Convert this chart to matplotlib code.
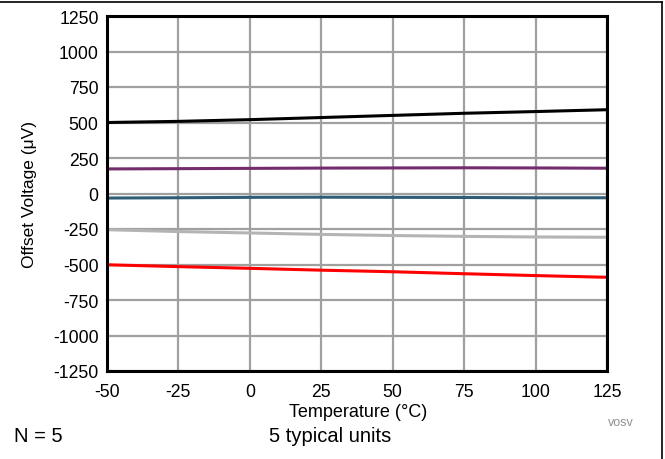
import matplotlib
matplotlib.use("Agg")
import matplotlib.pyplot as plt
from matplotlib.lines import Line2D

plt.rcParams['font.family'] = ['Liberation Sans', 'DejaVu Sans']
plt.rcParams['axes.unicode_minus'] = False

# === Data =====================================================================
temps = [-50, -25, 0, 25, 50, 75, 100, 125]
unit_black = [500, 508, 520, 535, 550, 565, 577, 590]
unit_purple = [173, 175, 177, 179, 180, 181, 180, 178]
unit_teal = [-32, -30, -27, -26, -27, -28, -30, -30]
unit_gray = [-255, -268, -278, -288, -296, -302, -306, -308]
unit_red = [-502, -515, -527, -540, -551, -565, -578, -590]

x_ticks = [-50, -25, 0, 25, 50, 75, 100, 125]
y_ticks = [-1250, -1000, -750, -500, -250, 0, 250, 500, 750, 1000, 1250]

series = [
    (unit_gray, '#b4b4b4'),
    (unit_teal, '#2f5d78'),
    (unit_purple, '#742c6c'),
    (unit_red, '#ff0000'),
    (unit_black, '#000000'),
]

# === Plot =====================================================================
fig = plt.figure(figsize=(6.65, 4.6), dpi=100)
ax = fig.add_axes([107 / 665, 1 - 372 / 460, 500 / 665, 355 / 460])

for vals, col in series:
    ax.plot(temps, vals, color=col, linewidth=2.2, solid_capstyle='butt')

ax.set_xlim(-50, 125)
ax.set_ylim(-1250, 1250)
ax.set_xticks(x_ticks)
ax.set_yticks(y_ticks)
ax.tick_params(length=0, labelsize=12.7)
ax.tick_params(axis='y', pad=6)
ax.tick_params(axis='x', pad=9)
ax.grid(True, color='#a0a0a0', linewidth=1.6)
ax.set_axisbelow(True)
for sp in ax.spines.values():
    sp.set_linewidth(2.2)
    sp.set_color('black')

ax.set_xlabel('Temperature (°C)', fontsize=13, va='center')
ax.xaxis.set_label_coords(0.503, (372 - 413) / 355)
ax.set_ylabel('Offset Voltage (μV)', fontsize=12.5, va='center')
ax.yaxis.set_label_coords((30 - 107) / 500, 0.5)

# footer texts
fig.text(14 / 665, 1 - 437 / 460, 'N = 5', fontsize=14.5, va='center', ha='left')
fig.text(330 / 665, 1 - 437 / 460, '5 typical units', fontsize=14.5, va='center', ha='center')
fig.text(634 / 665, 1 - 423.5 / 460, 'vosv', fontsize=9, color='#909090', va='center', ha='right')

# outer frame (top and right edges only)
fig.add_artist(Line2D([0, 662 / 665], [1 - 3 / 460, 1 - 3 / 460], color='black', linewidth=1.2,
                      transform=fig.transFigure))
fig.add_artist(Line2D([662 / 665, 662 / 665], [0, 1 - 3 / 460], color='black', linewidth=1.2,
                      transform=fig.transFigure))

fig.savefig('out.png', dpi=100)
